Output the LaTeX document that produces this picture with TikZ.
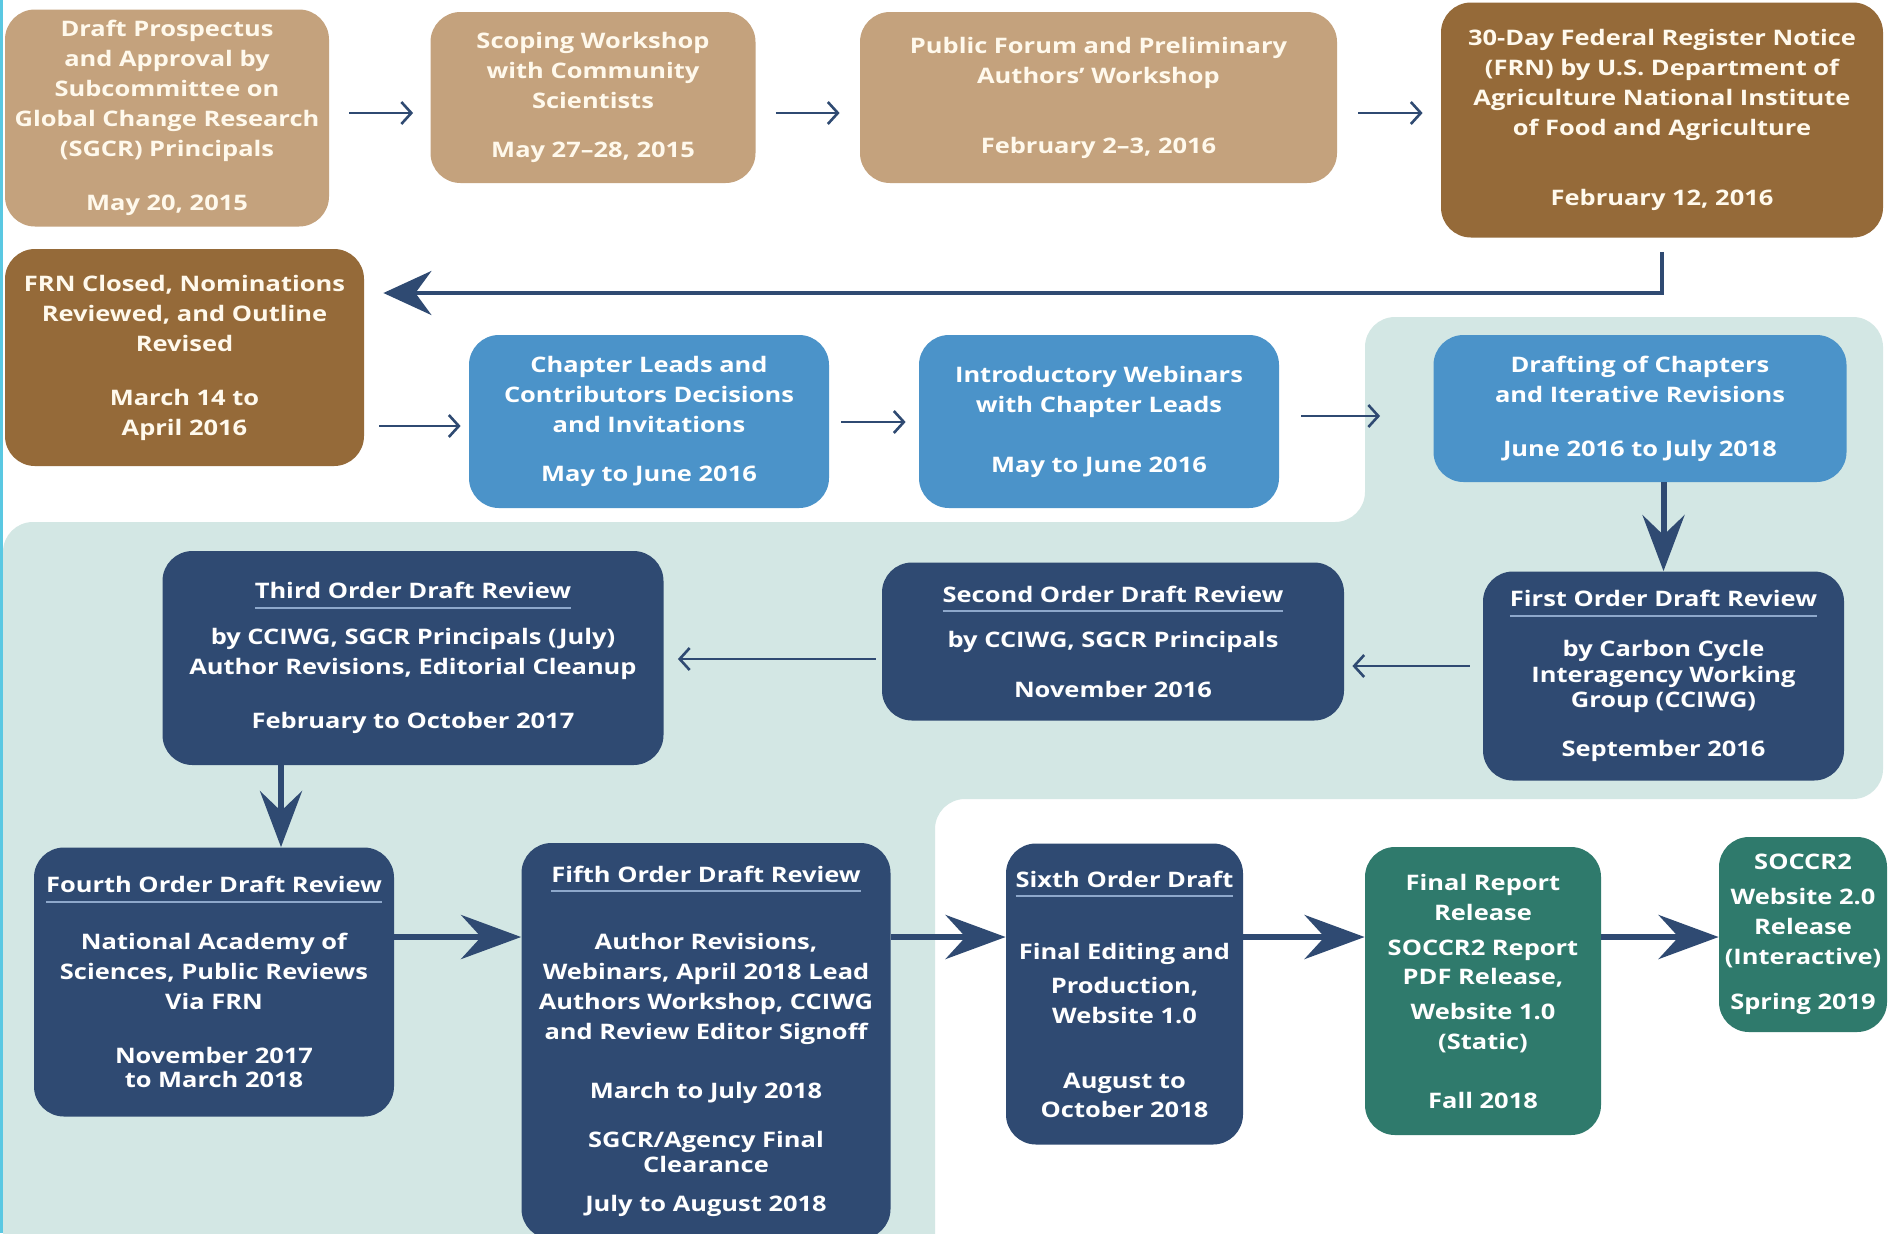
\documentclass[tikz,border=0pt]{standalone}
\usepackage{fontspec}
\setmainfont{Open Sans}[FakeStretch=1.19]
\usetikzlibrary{arrows.meta}
\definecolor{tanL}{HTML}{C4A27D}
\definecolor{brownD}{HTML}{956A39}
\definecolor{blueM}{HTML}{4B93C9}
\definecolor{navyD}{HTML}{2F4A72}
\definecolor{greenT}{HTML}{2F7A6C}
\definecolor{tealbg}{HTML}{D3E7E4}
\definecolor{rulec}{HTML}{8EA8CB}
\definecolor{arrowc}{HTML}{2F4A72}
\definecolor{creamT}{HTML}{FFF9EC}
\definecolor{edgecyan}{HTML}{5AC8E2}
\newsavebox\hdbox
\newcommand\hd[2][2.8pt]{\global\setbox\hdbox=\hbox{#2}\copy\hdbox\\[-10pt]\textcolor{rulec}{\rule{\wd\hdbox}{0.9pt}}\\[#1]}
\tikzset{
  basebox/.style={rounded corners=15pt, align=center, inner sep=0pt, text=white,
    font=\bfseries\fontsize{10.7}{15}\selectfont},
  tanbox/.style={basebox, fill=tanL, text=creamT},
  brownbox/.style={basebox, fill=brownD, text=creamT},
  bluebox/.style={basebox, fill=blueM},
  navybox/.style={basebox, fill=navyD},
  greenbox/.style={basebox, fill=greenT},
  sz/.style 2 args={minimum width={#1*0.5pt}, minimum height={#2*0.5pt}},
  thinarr/.style={draw=arrowc, line width=1.3pt, -{Straight Barb[length=5pt,width=11pt]}},
  frnarr/.style={draw=arrowc, line width=2pt, -{Stealth[length=24pt,width=22pt,inset=8pt]}},
  vertarr/.style={draw=arrowc, line width=3pt, -{Stealth[length=28pt,width=21pt,inset=10pt]}},
  rowarr/.style={draw=arrowc, line width=3pt, -{Stealth[length=30pt,width=22pt,inset=10pt]}},
}
\begin{document}
\begin{tikzpicture}[x=0.5pt,y=-0.5pt]
\useasboundingbox (0,0) rectangle (1889,1233);
\fill[white] (0,0) rectangle (1889,1233);
% background band
\fill[tealbg, rounded corners=15pt] (3,522) -- (1365,522) -- (1365,317) -- (1883,317)
  -- (1883,799) -- (935,799) -- (935,1270) -- (3,1270) -- cycle;
\fill[edgecyan] (0,0) rectangle (2.5,1233);

% row 1
\node[tanbox, sz={324}{217}] (b1) at (167,118) {Draft Prospectus\\and Approval by\\Subcommittee on\\Global Change Research\\(SGCR) Principals\\[12pt]May 20, 2015};
\node[tanbox, sz={325}{171}] (b2) at (593,97.5) {Scoping Workshop\\with Community\\Scientists\\[9.6pt]May 27–28, 2015};
\node[tanbox, sz={477}{171}] (b3) at (1098.5,97.5) {Public Forum and Preliminary\\Authors’ Workshop\\[20pt]February 2–3, 2016};
\node[brownbox, sz={442}{235}] (b4) at (1662,120) {30-Day Federal Register Notice\\(FRN) by U.S. Department of\\Agriculture National Institute\\of Food and Agriculture\\[20pt]February 12, 2016};

% row 2
\node[brownbox, sz={359}{217}] (b5) at (184.5,357.5) {FRN Closed, Nominations\\Reviewed, and Outline\\Revised\\[12pt]March 14 to\\April 2016};
\node[bluebox, sz={360}{173}] (b6) at (649,421.5) {Chapter Leads and\\Contributors Decisions\\and Invitations\\[9.6pt]May to June 2016};
\node[bluebox, sz={360}{173}] (b7) at (1099,421.5) {Introductory Webinars\\with Chapter Leads\\[15pt]May to June 2016};
\node[bluebox, sz={413}{147}] (b8) at (1640,408.5) {Drafting of Chapters\\and Iterative Revisions\\[12pt]June 2016 to July 2018};

% row 3
\node[navybox, sz={361}{209}] (r1) at (1663.5,676) {\hd[5.2pt]{First Order Draft Review}by Carbon Cycle\\[-2.4pt]Interagency Working\\[-2.4pt]Group (CCIWG)\\[9.7pt]September 2016};
\node[navybox, sz={462}{158}] (r2) at (1113,641.5) {\hd{Second Order Draft Review}by CCIWG, SGCR Principals\\[9.7pt]November 2016};
\node[navybox, sz={501}{214}] (r3) at (413,658) {\hd{Third Order Draft Review}by CCIWG, SGCR Principals (July)\\Author Revisions, Editorial Cleanup\\[12pt]February to October 2017};

% row 4
\node[navybox, sz={360}{269}] (r4) at (214,982) {\hd[8.2pt]{Fourth Order Draft Review}National Academy of\\Sciences, Public Reviews\\Via FRN\\[12pt]November 2017\\[-3pt]to March 2018};
\node[navybox, sz={369}{396}] (r5) at (706,1041) {\hd[13.5pt]{Fifth Order Draft Review}Author Revisions,\\Webinars, April 2018 Lead\\Authors Workshop, CCIWG\\and Review Editor Signoff\\[14.5pt]March to July 2018\\[9.7pt]SGCR/Agency Final\\[-2.4pt]Clearance\\[4.3pt]July to August 2018};
\node[navybox, sz={237}{301}] (r6) at (1124.5,994) {\hd[16pt]{Sixth Order Draft}Final Editing and\\[1.9pt]Production,\\Website 1.0\\[17.5pt]August to\\[-0.5pt]October 2018};
\node[greenbox, sz={236}{288}] (r7) at (1483,991) {Final Report\\Release\\[2.5pt]SOCCR2 Report\\[-0.5pt]PDF Release,\\[2.5pt]Website 1.0\\(Static)\\[14.5pt]Fall 2018};
\node[greenbox, sz={168}{195}] (r8) at (1803,934.5) {SOCCR2\\[2.5pt]Website 2.0\\Release\\(Interactive)\\[7.3pt]Spring 2019};

% connectors row 1
\draw[thinarr, shorten <=10pt, shorten >=8.5pt] (b1.east |- 0,113) -- (b2.west |- 0,113);
\draw[thinarr, shorten <=10pt, shorten >=10pt] (b2.east |- 0,113) -- (b3.west |- 0,113);
\draw[thinarr, shorten <=10.5pt, shorten >=9pt] (b3.east |- 0,113) -- (b4.west |- 0,113);
% FRN return
\draw[frnarr, shorten >=9.5pt] ([yshift=-7pt]b4.south) |- (b5.east |- 0,293);
% row 2
\draw[thinarr, shorten <=7.5pt, shorten >=4pt] (b5.east |- 0,426) -- (b6.west |- 0,426);
\draw[thinarr, shorten <=6pt, shorten >=6.5pt] (b6.east |- 0,422) -- (b7.west |- 0,422);
\draw[thinarr, shorten <=11pt, shorten >=26.5pt] (b7.east |- 0,416) -- (b8.west |- 0,416);
% down to row 3
\draw[vertarr] (b8.south -| r1.north) -- (r1.north);
\draw[thinarr, shorten <=6.5pt, shorten >=4pt] (r1.west |- 0,666) -- (r2.east |- 0,666);
\draw[thinarr, shorten <=3pt, shorten >=7pt] (r2.west |- 0,659) -- (r3.east |- 0,659);
\draw[vertarr] (r3.south -| 281,0) -- (r4.north -| 281,0);
% row 4
\draw[rowarr] (r4.east |- 0,937) -- (r5.west |- 0,937);
\draw[rowarr] (r5.east |- 0,937) -- (r6.west |- 0,937);
\draw[rowarr] (r6.east |- 0,937) -- (r7.west |- 0,937);
\draw[rowarr] (r7.east |- 0,937) -- (r8.west |- 0,937);
\end{tikzpicture}
\end{document}
